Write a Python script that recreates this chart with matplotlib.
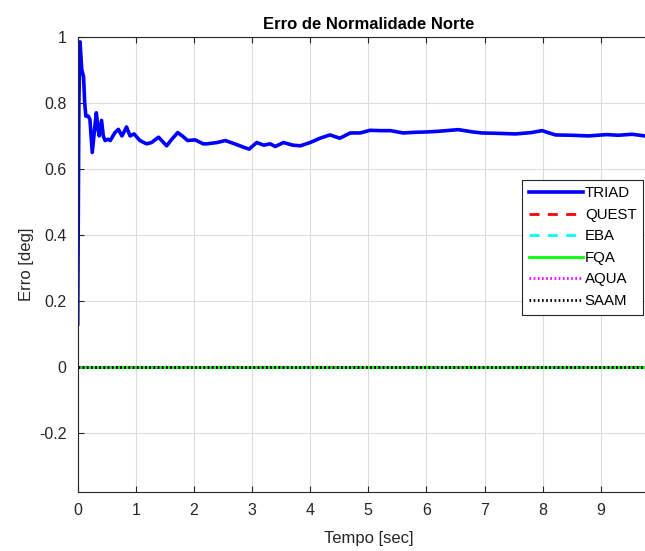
import numpy as np
import matplotlib
matplotlib.use("Agg")
import matplotlib.pyplot as plt

# TRIAD north normality error (time [s], error [deg])
t_triad = [0.0, 0.02, 0.04, 0.07, 0.10, 0.12, 0.14, 0.18, 0.21, 0.25, 0.29, 0.32,
           0.35, 0.37, 0.41, 0.44, 0.47, 0.52, 0.56, 0.64, 0.70, 0.76, 0.78, 0.84,
           0.90, 0.97, 1.07, 1.16, 1.19, 1.27, 1.39, 1.53, 1.62, 1.72, 1.80, 1.89,
           2.02, 2.16, 2.22, 2.40, 2.54, 2.70, 2.85, 2.95, 3.08, 3.20, 3.31, 3.40,
           3.54, 3.70, 3.83, 4.00, 4.17, 4.34, 4.51, 4.69, 4.86, 5.03, 5.20, 5.38,
           5.60, 5.81, 6.00, 6.20, 6.55, 6.80, 6.95, 7.20, 7.53, 7.80, 7.99, 8.22,
           8.50, 8.79, 9.10, 9.30, 9.54, 9.76, 10.0]
e_triad = [0.13, 0.80, 0.985, 0.90, 0.88, 0.80, 0.76, 0.76, 0.75, 0.65, 0.72, 0.77,
           0.72, 0.70, 0.747, 0.70, 0.686, 0.69, 0.686, 0.71, 0.72, 0.70, 0.706, 0.727,
           0.70, 0.706, 0.686, 0.678, 0.676, 0.68, 0.696, 0.670, 0.690, 0.710, 0.700, 0.686,
           0.688, 0.676, 0.676, 0.680, 0.686, 0.676, 0.666, 0.660, 0.680, 0.672, 0.676, 0.668,
           0.680, 0.672, 0.670, 0.680, 0.693, 0.703, 0.693, 0.709, 0.709, 0.717, 0.716, 0.716,
           0.709, 0.711, 0.712, 0.714, 0.719, 0.712, 0.709, 0.708, 0.706, 0.710, 0.716, 0.703,
           0.702, 0.700, 0.704, 0.702, 0.705, 0.700, 0.698]

# other algorithms: error stays at zero
t_zero = [0.0, 10.0]
e_quest = [0.0, 0.0]
e_eba = [0.0, 0.0]
e_fqa = [0.0, 0.0]
e_aqua = [0.0, 0.0]
e_saam = [0.0, 0.0]

y_ticks = [-0.2, 0, 0.2, 0.4, 0.6, 0.8, 1]
y_ticklabels = ['-0.2', '0', '0.2', '0.4', '0.6', '0.8', '1']
x_ticks = list(range(0, 10))

plt.rcParams['font.family'] = ['Liberation Sans', 'DejaVu Sans']

fig = plt.figure(figsize=(6.45, 5.51), dpi=100)
ax = fig.add_axes([0.1205, 0.1065, 0.901, 0.8265])

ax.plot(t_triad, e_triad, color='#0000ff', lw=2.6, label='TRIAD')
ax.plot(t_zero, e_quest, color='#ff0000', lw=2, ls=(0, (3.6, 3.0)), label='QUEST')
ax.plot(t_zero, e_eba, color='#00ffff', lw=2, ls=(0, (3.6, 3.0)), label='EBA')
ax.plot(t_zero, e_fqa, color='#00ff00', lw=2, label='FQA')
ax.plot(t_zero, e_aqua, color='#ff00ff', lw=2, ls=(0, (0.6, 0.9)), label='AQUA')
ax.plot(t_zero, e_saam, color='#000000', lw=2, ls=(0, (0.6, 0.9)), label='SAAM')

ax.set_xlim(0, 10)
ax.set_ylim(-0.38, 1)
ax.set_xticks(x_ticks)
ax.set_yticks(y_ticks)
ax.set_yticklabels(y_ticklabels)
ax.grid(True, color='#dcdcdc', lw=0.8)
ax.set_axisbelow(True)

ax.tick_params(direction='in', length=4, width=0.8, colors='#262626',
               labelsize=11.5, top=True, right=True, pad=8)
for s in ax.spines.values():
    s.set_color('#262626')
    s.set_linewidth(0.8)

ax.set_title('Erro de Normalidade Norte', fontsize=12, fontweight='bold', pad=6)
ax.set_xlabel('Tempo [sec]', fontsize=12, color='#262626', labelpad=9)
ax.set_ylabel('Erro [deg]', fontsize=12, color='#262626', labelpad=4)

leg = fig.legend(loc='upper left', bbox_to_anchor=(0.809, 0.674), fontsize=10.8,
                 handlelength=3.6, handletextpad=0.15, labelspacing=0.5,
                 borderpad=0.45, borderaxespad=0, fancybox=False, framealpha=1)
leg.get_frame().set_edgecolor('#262626')
leg.get_frame().set_linewidth(0.8)

fig.savefig('out.png', dpi=100)
